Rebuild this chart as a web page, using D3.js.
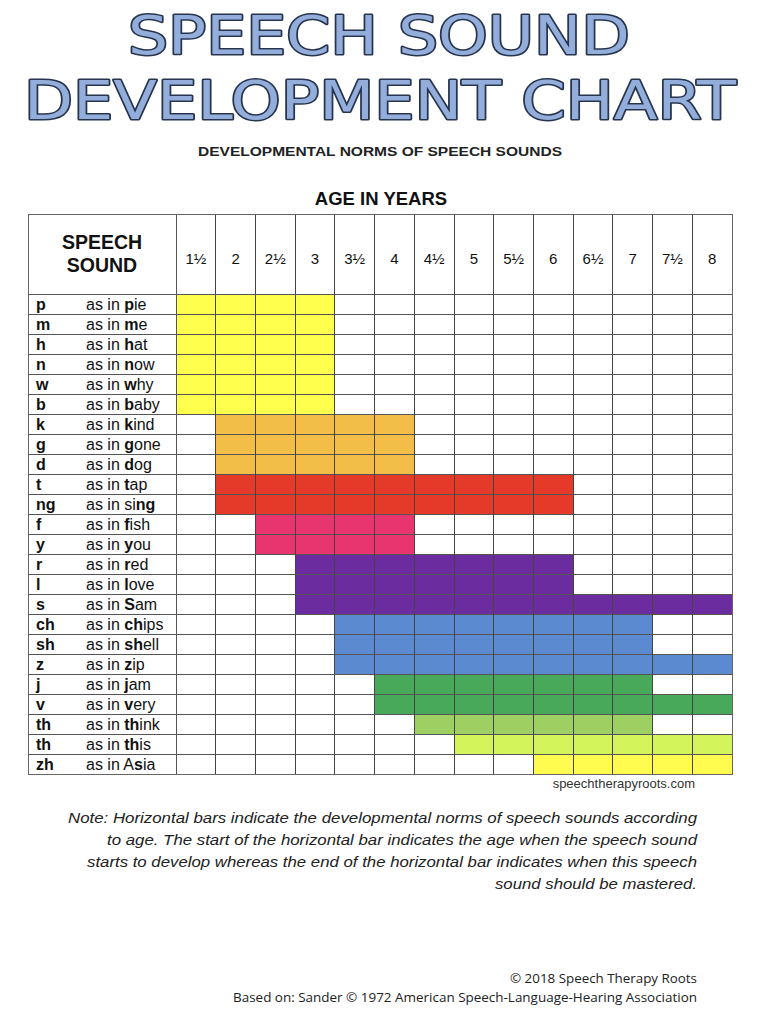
<!DOCTYPE html>
<html><head><meta charset="utf-8">
<script src="https://cdn.jsdelivr.net/npm/d3@7/dist/d3.min.js"></script>
<style>body{margin:0;background:#fff}svg{display:block}</style>
</head><body>
<svg id="c" width="766" height="1024"></svg>
<script>
const ages = [1.5,2,2.5,3,3.5,4,4.5,5,5.5,6,6.5,7,7.5,8];
const ageLabels = ["1½","2","2½","3","3½","4","4½","5","5½","6","6½","7","7½","8"];
const sounds = ["p","m","h","n","w","b","k","g","d","t","ng","f","y","r","l","s","ch","sh","z","j","v","th","th","zh"];
const examplePre  = ["","","","","","","","","","","si","","","","","","","","","","","","","A"];
const exampleBold = ["p","m","h","n","w","b","k","g","d","t","ng","f","y","r","l","S","ch","sh","z","j","v","th","th","s"];
const examplePost = ["ie","e","at","ow","hy","aby","ind","one","og","ap","","ish","ou","ed","ove","am","ips","ell","ip","am","ery","ink","is","ia"];
const startAge = [1.5,1.5,1.5,1.5,1.5,1.5,2,2,2,2,2,2.5,2.5,3,3,3,3.5,3.5,3.5,4,4,4.5,5,6];
const endAge   = [3,3,3,3,3,3,4,4,4,6,6,4,4,6,6,8,7,7,8,7,8,7,8,8];
const barColors = ["#FFFF4D","#FFFF4D","#FFFF4D","#FFFF4D","#FFFF4D","#FFFF4D",
  "#F3BE48","#F3BE48","#F3BE48","#E5392A","#E5392A","#E8346F","#E8346F",
  "#6A2C9F","#6A2C9F","#6A2C9F","#5C8AD1","#5C8AD1","#5C8AD1","#48A95A","#48A95A",
  "#9DCF63","#D3F55B","#FFFB4F"];

const svg = d3.select("#c");
const tLeft = 28, colStart = 176, tRight = 732, tTop = 214, headBottom = 294, tBottom = 774;
const x = d3.scaleBand().domain(ages).range([colStart, tRight]).padding(0);
const y = d3.scaleBand().domain(d3.range(sounds.length)).range([headBottom, tBottom]).padding(0);

// Title
const title = svg.append("g").attr("font-family","'DejaVu Sans', 'Liberation Sans', sans-serif").attr("font-weight","normal")
  .attr("fill","#93AEDB").attr("stroke","#27344E").attr("stroke-width",3).attr("stroke-linejoin","round")
  .attr("paint-order","stroke").attr("text-anchor","middle");
title.append("text").attr("x",379).attr("y",54).attr("font-size",54)
  .attr("textLength",502).attr("lengthAdjust","spacingAndGlyphs").text("SPEECH SOUND");
title.append("text").attr("x",380).attr("y",119).attr("font-size",54)
  .attr("textLength",712).attr("lengthAdjust","spacingAndGlyphs").text("DEVELOPMENT CHART");

svg.append("text").attr("x",380).attr("y",156).attr("text-anchor","middle")
  .attr("font-family","'Liberation Sans', Arial, sans-serif").attr("font-weight","bold").attr("font-size",13.5)
  .attr("fill","#222").attr("textLength",364).attr("lengthAdjust","spacingAndGlyphs")
  .text("DEVELOPMENTAL NORMS OF SPEECH SOUNDS");

svg.append("text").attr("x",381).attr("y",205).attr("text-anchor","middle")
  .attr("font-family","'Liberation Sans', Arial, sans-serif").attr("font-weight","bold").attr("font-size",18.5)
  .attr("fill","#111").text("AGE IN YEARS");

// Bars
svg.append("g").selectAll("rect").data(sounds).join("rect")
  .attr("x",(d,i)=>x(startAge[i]))
  .attr("y",(d,i)=>y(i))
  .attr("width",(d,i)=>x(endAge[i]) + x.bandwidth() - x(startAge[i]))
  .attr("height",y.bandwidth())
  .attr("fill",(d,i)=>barColors[i]);

// Grid
const grid = svg.append("g").attr("shape-rendering","crispEdges");
grid.selectAll("line.h").data(d3.range(1, sounds.length)).join("line")
  .attr("x1",tLeft).attr("x2",tRight).attr("y1",i=>y(i)).attr("y2",i=>y(i))
  .attr("stroke","#555").attr("stroke-width",1);
grid.append("line").attr("x1",tLeft).attr("x2",tRight).attr("y1",headBottom).attr("y2",headBottom).attr("stroke","#555");
grid.selectAll("line.v").data(ages.slice(1)).join("line")
  .attr("x1",d=>x(d)).attr("x2",d=>x(d)).attr("y1",tTop).attr("y2",tBottom)
  .attr("stroke","#444").attr("stroke-width",1);
grid.append("line").attr("x1",colStart).attr("x2",colStart).attr("y1",tTop).attr("y2",tBottom).attr("stroke","#555");
grid.append("rect").attr("x",tLeft).attr("y",tTop).attr("width",tRight-tLeft).attr("height",tBottom-tTop)
  .attr("fill","none").attr("stroke","#666").attr("stroke-width",1);

// Header text
const hdr = svg.append("g").attr("font-family","'Liberation Sans', Arial, sans-serif").attr("fill","#111");
hdr.append("text").attr("x",(tLeft+colStart)/2).attr("y",249).attr("text-anchor","middle")
  .attr("font-weight","bold").attr("font-size",19.5).text("SPEECH");
hdr.append("text").attr("x",(tLeft+colStart)/2).attr("y",272).attr("text-anchor","middle")
  .attr("font-weight","bold").attr("font-size",19.5).text("SOUND");
hdr.selectAll("text.age").data(ages).join("text")
  .attr("x",d=>x(d)+x.bandwidth()/2).attr("y",264).attr("text-anchor","middle")
  .attr("font-size",15).text((d,i)=>ageLabels[i]);

// Row labels
const rows = svg.append("g").attr("font-family","'Liberation Sans', Arial, sans-serif").attr("font-size",16).attr("fill","#111");
rows.selectAll("text.s").data(sounds).join("text")
  .attr("x",36).attr("y",(d,i)=>y(i)+15.5).attr("font-weight","bold").text(d=>d);
const ex = rows.selectAll("text.e").data(sounds).join("text")
  .attr("x",86).attr("y",(d,i)=>y(i)+15.5);
ex.append("tspan").text((d,i)=>"as in " + examplePre[i]);
ex.append("tspan").attr("font-weight","bold").text((d,i)=>exampleBold[i]);
ex.append("tspan").text((d,i)=>examplePost[i]);

svg.append("text").attr("x",695).attr("y",788).attr("text-anchor","end")
  .attr("font-family","'Liberation Sans', Arial, sans-serif").attr("font-size",13).attr("fill","#333")
  .text("speechtherapyroots.com");

// Note
const noteLines = [
  ["Note: Horizontal bars indicate the developmental norms of speech sounds according", 629],
  ["to age. The start of the horizontal bar indicates the age when the speech sound", 590],
  ["starts to develop whereas the end of the horizontal bar indicates when this speech", 610],
  ["sound should be mastered.", 202]
];
svg.append("g").attr("font-family","'Liberation Sans', Arial, sans-serif").attr("font-style","italic")
  .attr("font-size",15.5).attr("fill","#222").attr("text-anchor","end")
  .selectAll("text").data(noteLines).join("text")
  .attr("x",697).attr("y",(d,i)=>823 + i*22)
  .attr("textLength",d=>d[1]).attr("lengthAdjust","spacingAndGlyphs").text(d=>d[0]);

// Footer
const foot = svg.append("g").attr("font-family","'Open Sans', 'Noto Sans', sans-serif").attr("font-size",13)
  .attr("fill","#222").attr("text-anchor","end");
foot.append("text").attr("x",697).attr("y",983).attr("textLength",187).attr("lengthAdjust","spacingAndGlyphs")
  .text("© 2018 Speech Therapy Roots");
foot.append("text").attr("x",697).attr("y",1002).attr("textLength",464).attr("lengthAdjust","spacingAndGlyphs")
  .text("Based on: Sander © 1972 American Speech-Language-Hearing Association");
</script>
</body></html>
